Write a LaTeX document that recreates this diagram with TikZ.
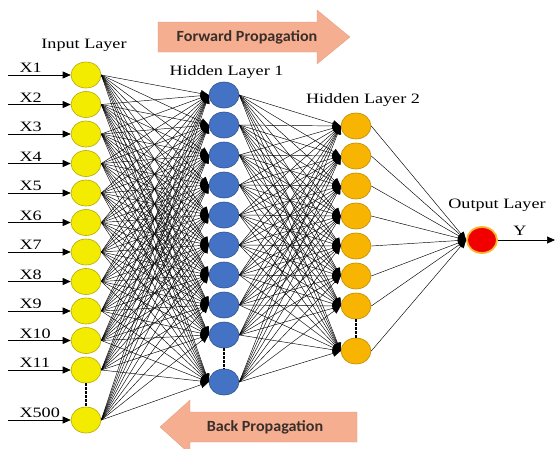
\documentclass[tikz,border=0pt]{standalone}
\usepackage{fontspec}
\setmainfont{Liberation Serif}[FakeStretch=1.27]
\newfontfamily\calib{Carlito}[FakeStretch=1.04]
\usetikzlibrary{arrows.meta,shapes.geometric}
\definecolor{inyel}{HTML}{F3EC00}
\definecolor{inyeld}{HTML}{B5A800}
\definecolor{hblue}{HTML}{4472C4}
\definecolor{hblued}{HTML}{2F528F}
\definecolor{hora}{HTML}{F7B400}
\definecolor{horad}{HTML}{BF8A00}
\definecolor{outred}{HTML}{F20000}
\definecolor{outglow}{HTML}{F8B830}
\definecolor{propfill}{HTML}{F5AE90}
\definecolor{proptext}{HTML}{3A2E2A}
\begin{document}
\begin{tikzpicture}[x=1pt,y=-1pt,
  neuron/.style={ellipse,minimum width=30pt,minimum height=26pt,inner sep=0pt,line width=0.6pt},
  inneuron/.style={neuron,fill=inyel,draw=inyeld},
  hneuron/.style={neuron,fill=hblue,draw=hblued},
  gneuron/.style={neuron,fill=hora,draw=horad},
  oneuron/.style={neuron,fill=outred,draw=outglow,line width=1.8pt},
  link/.style={line width=0.45pt,-{Triangle[length=8pt,width=7pt]}},
  feed/.style={line width=0.7pt,-{Triangle[length=8pt,width=7pt]}},
  gap/.style={line width=1.1pt,dash pattern=on 2.5pt off 1.5pt},
  layername/.style={font=\fontsize{14.3}{16}\selectfont},
  xlabel/.style={font=\fontsize{14.3}{16}\selectfont,anchor=base west},
  prop/.style={fill=propfill,draw=propfill!90!black,line width=0.3pt},
  proplabel/.style={font=\calib\bfseries\fontsize{15.5}{17}\selectfont,text=proptext}]
\useasboundingbox (0,0) rectangle (557,448);

% propagation arrows
\path[prop] (158,22) -- (317,22) -- (317,10) -- (350,37) -- (317,64) -- (317,52) -- (158,52) -- cycle;
\node[proplabel] (fwd) at (247,37) {Forward Propagation};
\path[prop] (357,412) -- (190,412) -- (190,400) -- (160,427) -- (190,454) -- (190,442) -- (357,442) -- cycle;
\node[proplabel] (bck) at (265,427) {Back Propagation};

% layer titles
\node[layername] (tin) at (84,45) {Input Layer};
\node[layername] (th1) at (226.5,72) {Hidden Layer 1};
\node[layername] (th2) at (363,100) {Hidden Layer 2};
\node[layername] (tout) at (497,205) {Output Layer};

% input layer
\foreach \i in {1,...,11} {
  \node[inneuron] (in\i) at (86,{75+29.5*(\i-1)}) {};
}
\node[inneuron] (in12) at (86,420) {};
% hidden layer 1
\foreach \j in {1,...,9} {
  \node[hneuron] (h\j) at (224,{95+30*(\j-1)}) {};
}
\node[hneuron] (h10) at (224,382) {};
% hidden layer 2
\foreach \k in {1,...,7} {
  \node[gneuron] (g\k) at (356,{126+30*(\k-1)}) {};
}
\node[gneuron] (g8) at (356,351) {};
% output
\node[oneuron] (out) at (482,240) {};

% gaps between the last shown neurons
\draw[gap] (in11.south) -- (in12.north);
\draw[gap] (h9.south) -- (h10.north);
\draw[gap] (g7.south) -- (g8.north);

% full connections
\foreach \i in {1,...,12} {
  \foreach \j in {1,...,10} {
    \draw[link] (in\i.east) -- (h\j.west);
  }
}
\foreach \j in {1,...,10} {
  \foreach \k in {1,...,8} {
    \draw[link] (h\j.east) -- (g\k.west);
  }
}
\foreach \k in {1,...,8} {
  \draw[link] (g\k.east) -- (out.west);
}

% inputs
\foreach \i/\t in {1/X1,2/X2,3/X3,4/X4,5/X5,6/X6,7/X7,8/X8,9/X9,10/X10,11/X11,12/X500} {
  \pgfmathsetmacro{\yy}{\i<12 ? 75+29.5*(\i-1) : 420}
  \coordinate (src\i) at (8,\yy);
  \draw[feed] (src\i) -- (in\i.west);
  \node[xlabel] (lx\i) at (16,\yy-2.5) {\t};
}

% output
\coordinate (yend) at (555,240);
\draw[feed] (out.east) -- (yend);
\node[layername] (ylab) at (520,231) {Y};
\end{tikzpicture}
\end{document}
